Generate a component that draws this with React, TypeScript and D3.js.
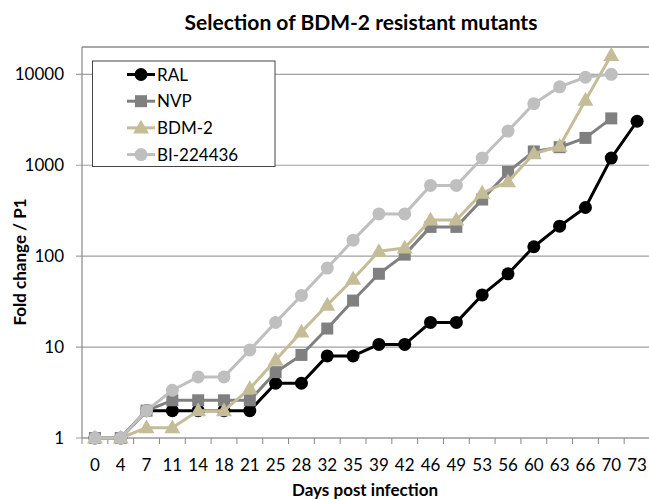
import React from 'react';
import * as d3 from 'd3';

const days = ['0', '4', '7', '11', '14', '18', '21', '25', '28', '32', '35', '39', '42', '46', '49', '53', '56', '60', '63', '66', '70', '73'];

const ral = [1, 1, 2, 2, 2, 2, 2, 4, 4, 8, 8, 10.7, 10.7, 18.7, 18.7, 37.5, 64, 127, 214, 343, 1200, 3050];
const nvp = [1, 1, 2, 2.6, 2.6, 2.6, 2.6, 5.3, 8.2, 16, 32.5, 64, 104, 210, 210, 420, 845, 1420, 1580, 2000, 3280, null];
const bdm2 = [1, 1, 1.3, 1.3, 2, 2, 3.5, 7.2, 14.7, 29, 56, 113, 123, 250, 250, 495, 660, 1340, 1620, 5200, 16200, null];
const bi = [1, 1, 2, 3.35, 4.7, 4.7, 9.3, 18.7, 37, 74, 150, 292, 292, 600, 600, 1200, 2380, 4760, 7300, 9300, 10000, null];

const yTicks = [1, 10, 100, 1000, 10000];

const series = [
  { name: 'RAL', values: ral, color: '#000000', marker: 'circle' },
  { name: 'NVP', values: nvp, color: '#808080', marker: 'square' },
  { name: 'BDM-2', values: bdm2, color: '#c4bd97', marker: 'triangle' },
  { name: 'BI-224436', values: bi, color: '#bfbfbf', marker: 'circle' },
];

const FONT = 'Lato, "Open Sans", sans-serif';

function Marker({ type, x, y, color }: { type: string; x: number; y: number; color: string }) {
  if (type === 'square') {
    return <rect x={x - 6} y={y - 6} width={12} height={12} fill={color} />;
  }
  if (type === 'triangle') {
    const p = d3.symbol(d3.symbolTriangle, 110)();
    return <path d={p || ''} transform={`translate(${x},${y + 1})`} fill={color} />;
  }
  return <circle cx={x} cy={y} r={6.5} fill={color} />;
}

export default function App() {
  const width = 649;
  const height = 499;
  const left = 82;
  const right = 650;
  const top = 47;
  const bottom = 438;

  const x = d3.scaleBand().domain(days).range([left, right]);
  const y = d3.scaleLog().domain([1, 20000]).range([bottom, top]);

  const line = d3
    .line<number | null>()
    .defined((d) => d != null)
    .x((_, i) => (x(days[i]) as number) + x.bandwidth() / 2)
    .y((d) => y(d as number));

  return (
    <svg width={width} height={height} style={{ position: 'absolute', left: 0, top: 0 }} fontFamily={FONT}>
      <rect width={width} height={height} fill="#fff" />
      <text x={361} y={30} textAnchor="middle" fontSize={21} fontWeight="bold" fill="#000">
        Selection of BDM-2 resistant mutants
      </text>

      {yTicks.map((t) => (
        <g key={t}>
          <line x1={76} x2={right} y1={y(t)} y2={y(t)} stroke="#a0a0a0" strokeWidth={1.2} />
          <text x={64} y={y(t) + 6} textAnchor="end" fontSize={17} fill="#000">
            {t}
          </text>
        </g>
      ))}

      <line x1={left} x2={right} y1={top} y2={top} stroke="#555" strokeWidth={1.2} />
      <line x1={left} x2={left} y1={top} y2={bottom} stroke="#888" strokeWidth={1.2} />
      <line x1={left} x2={right} y1={bottom} y2={bottom} stroke="#aaa" strokeWidth={1.5} />

      {days.map((d) => (
        <g key={d}>
          <line x1={x(d) as number} x2={x(d) as number} y1={bottom} y2={bottom + 6} stroke="#888" />
          <text x={(x(d) as number) + x.bandwidth() / 2} y={471} textAnchor="middle" fontSize={17} fill="#000">
            {d}
          </text>
        </g>
      ))}

      <text x={365} y={496} textAnchor="middle" fontSize={17} fontWeight="bold" fill="#000">
        Days post infection
      </text>
      <text transform={`translate(26,262) rotate(-90)`} textAnchor="middle" fontSize={17} fontWeight="bold" fill="#000">
        Fold change / P1
      </text>

      {series.map((s) => (
        <g key={s.name}>
          <path d={line(s.values) || ''} fill="none" stroke={s.color} strokeWidth={3} strokeLinejoin="round" />
          {s.values.map((v, i) =>
            v == null ? null : (
              <Marker key={i} type={s.marker} x={(x(days[i]) as number) + x.bandwidth() / 2} y={y(v)} color={s.color} />
            )
          )}
        </g>
      ))}

      <rect x={92.5} y={61} width={182.5} height={105.5} fill="#fff" stroke="#444" strokeWidth={1} />
      {series.map((s, i) => {
        const ly = 74.5 + i * 26.7;
        return (
          <g key={s.name}>
            <line x1={127} x2={155} y1={ly} y2={ly} stroke={s.color} strokeWidth={3} />
            <Marker type={s.marker} x={141} y={ly} color={s.color} />
            <text x={157} y={ly + 6} fontSize={17} fill="#000">
              {s.name}
            </text>
          </g>
        );
      })}
    </svg>
  );
}
